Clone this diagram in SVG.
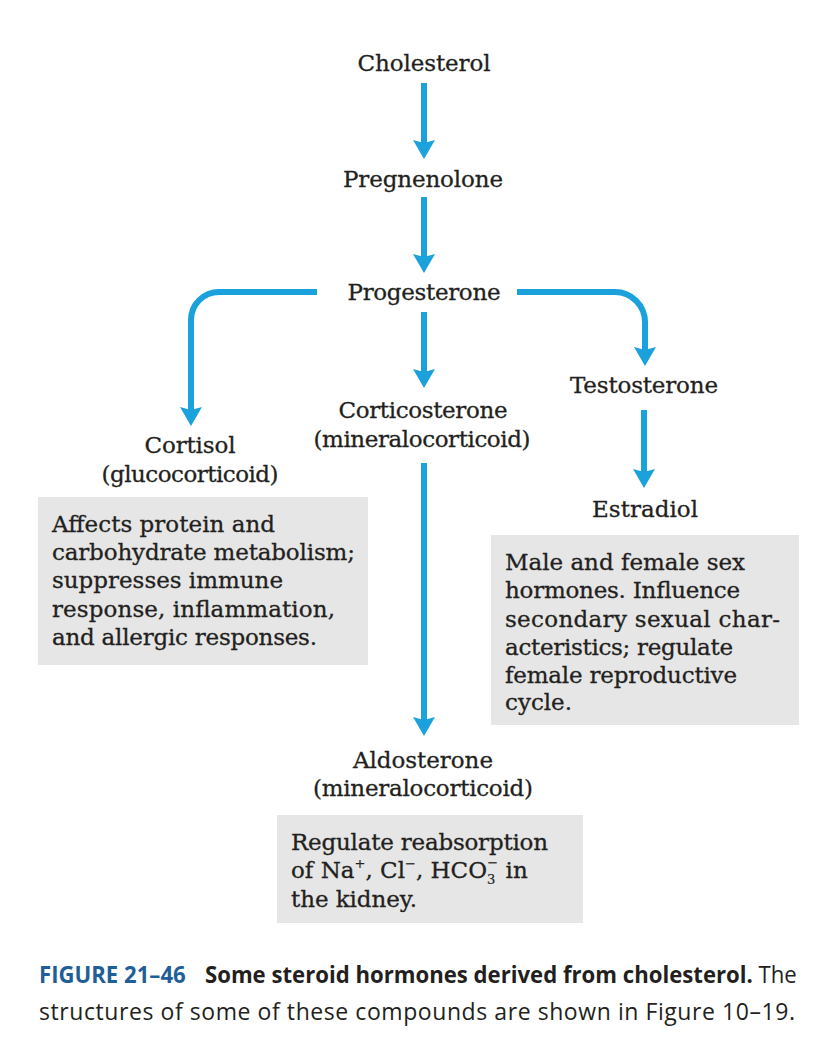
<svg xmlns="http://www.w3.org/2000/svg" width="813" height="1051" viewBox="0 0 813 1051">
<style>
.lbl{font-family:"DejaVu Serif","Liberation Serif",serif;font-size:23px;fill:#231f20;stroke:#231f20;stroke-width:0.3;text-anchor:middle}
.bt{font-family:"DejaVu Serif","Liberation Serif",serif;font-size:23px;fill:#231f20;stroke:#231f20;stroke-width:0.3}
.sm{font-size:13px;stroke-width:0.2}
.box{fill:#e6e6e6}
.con{fill:none;stroke:#1ba1dc;stroke-width:6;marker-end:url(#ah)}
.cap{font-family:"Open Sans","Liberation Sans",sans-serif;font-size:23px;fill:#231f20}
.capb{font-weight:bold}
.fig{fill:#1f5e96;font-weight:bold}
</style>
<defs>
<marker id="ah" markerUnits="userSpaceOnUse" markerWidth="20" markerHeight="22" viewBox="0 0 20 22" refX="6" refY="11" orient="auto">
<path d="M0,0 L19,11 L0,22 L3,11 Z" fill="#1ba1dc"/>
</marker>
</defs>
<rect width="813" height="1051" fill="#ffffff"/>

<g id="connectors">
<path class="con" d="M424,83 V146"/>
<path class="con" d="M424,197 V260"/>
<path class="con" d="M424,312 V375"/>
<path class="con" d="M424,463 V723"/>
<path class="con" d="M644,410 V475"/>
<path class="con" d="M317,292 H219 A28,28 0 0 0 191,320 V413"/>
<path class="con" d="M517,292 H615 A30,30 0 0 1 645,322 V353"/>
</g>

<g id="cholesterol"><text class="lbl" x="424" y="71" textLength="133">Cholesterol</text></g>
<g id="pregnenolone"><text class="lbl" x="423" y="187" textLength="160">Pregnenolone</text></g>
<g id="progesterone"><text class="lbl" x="424" y="300" textLength="153">Progesterone</text></g>
<g id="corticosterone">
<text class="lbl" x="423" y="418" textLength="169">Corticosterone</text>
<text class="lbl" x="422" y="447" textLength="217">(mineralocorticoid)</text>
</g>
<g id="testosterone"><text class="lbl" x="644" y="393" textLength="148">Testosterone</text></g>
<g id="estradiol"><text class="lbl" x="645" y="517" textLength="106">Estradiol</text></g>
<g id="cortisol">
<text class="lbl" x="190" y="453" textLength="91">Cortisol</text>
<text class="lbl" x="190" y="482" textLength="177">(glucocorticoid)</text>
</g>
<g id="aldosterone">
<text class="lbl" x="423" y="768" textLength="140">Aldosterone</text>
<text class="lbl" x="423" y="796" textLength="220">(mineralocorticoid)</text>
</g>

<g id="cortisol-box">
<rect class="box" x="38" y="497" width="330" height="168"/>
<text class="bt" x="52" y="532" textLength="223">Affects protein and</text>
<text class="bt" x="52" y="560" textLength="303">carbohydrate metabolism;</text>
<text class="bt" x="52" y="588" textLength="231">suppresses immune</text>
<text class="bt" x="52" y="617" textLength="283">response, inflammation,</text>
<text class="bt" x="52" y="645" textLength="265">and allergic responses.</text>
</g>

<g id="estradiol-box">
<rect class="box" x="491" y="535" width="308" height="190"/>
<text class="bt" x="505" y="570" textLength="240">Male and female sex</text>
<text class="bt" x="505" y="598" textLength="235">hormones. Influence</text>
<text class="bt" x="505" y="627" textLength="275">secondary sexual char-</text>
<text class="bt" x="505" y="655" textLength="228">acteristics; regulate</text>
<text class="bt" x="505" y="683" textLength="232">female reproductive</text>
<text class="bt" x="505" y="710">cycle.</text>
</g>

<g id="aldosterone-box">
<rect class="box" x="277" y="815" width="306" height="108"/>
<text class="bt" x="291" y="850" textLength="257">Regulate reabsorption</text>
<text class="bt" x="291" y="878">of Na<tspan class="sm" dy="-10">+</tspan><tspan dy="10">, Cl</tspan><tspan class="sm" dy="-10">−</tspan><tspan dy="10">, HCO</tspan><tspan class="sm" dy="6">3</tspan><tspan class="sm" dx="-8" dy="-17">−</tspan><tspan dy="11"> in</tspan></text>
<text class="bt" x="291" y="907" textLength="126">the kidney.</text>
</g>

<g id="caption">
<text class="cap" transform="translate(39,983) scale(0.87,1)" x="0" y="0" textLength="871" lengthAdjust="spacingAndGlyphs"><tspan class="fig">FIGURE 21–46</tspan><tspan class="capb" dx="14"> Some steroid hormones derived from cholesterol.</tspan><tspan> The</tspan></text>
<text class="cap" x="39" y="1020" textLength="756" lengthAdjust="spacing">structures of some of these compounds are shown in Figure 10–19.</text>
</g>
</svg>
